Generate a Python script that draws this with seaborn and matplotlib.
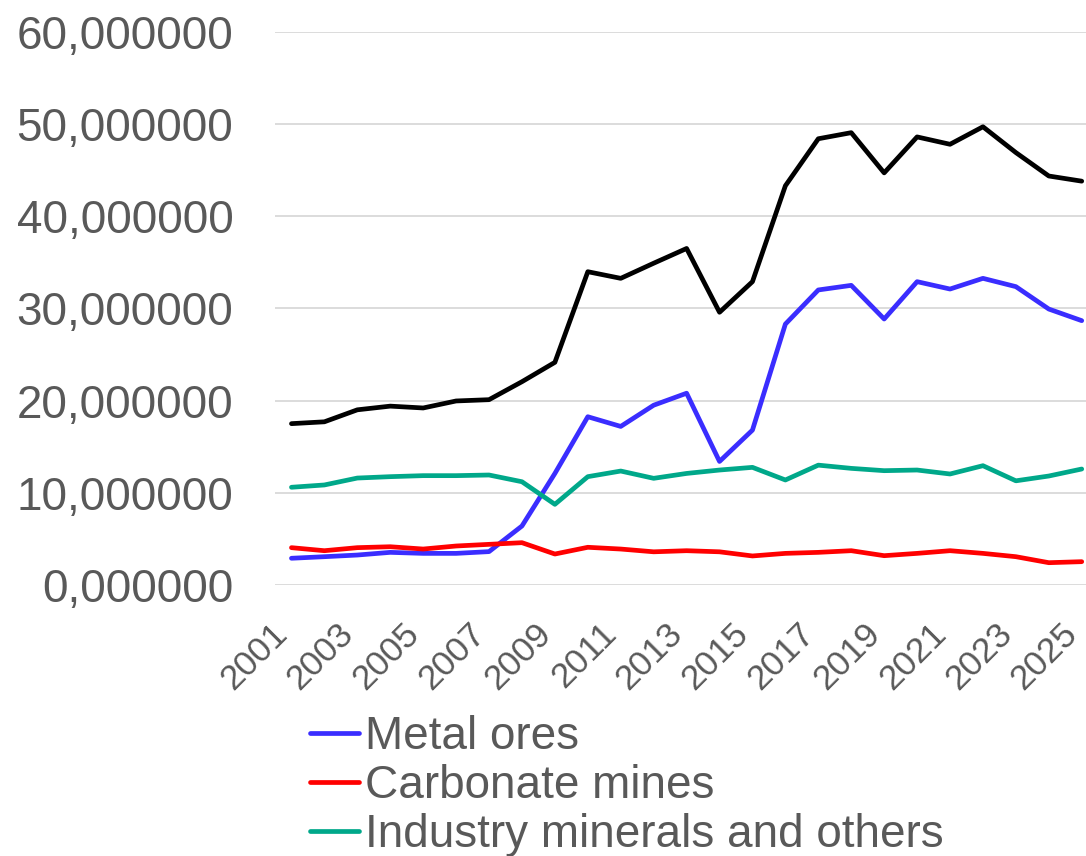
import matplotlib
matplotlib.use("Agg")
import matplotlib.pyplot as plt
import matplotlib.transforms as mtransforms
import seaborn as sns
import pandas as pd
from matplotlib.ticker import FuncFormatter, FixedLocator

years = list(range(2001, 2026))

total = [17.5, 17.7, 19.0, 19.4, 19.2, 19.96, 20.1, 22.05, 24.15, 33.98,
         33.26, 34.9, 36.5, 29.58, 32.9, 43.3, 48.4, 49.06, 44.7, 48.6,
         47.8, 49.7, 46.9, 44.36, 43.8]
metal_ores = [2.9, 3.07, 3.25, 3.54, 3.43, 3.43, 3.62, 6.4, 12.1, 18.25,
              17.2, 19.5, 20.8, 13.4, 16.8, 28.3, 32.0, 32.5, 28.85, 32.9,
              32.1, 33.26, 32.36, 29.93, 28.67]
carbonate_mines = [4.05, 3.72, 4.05, 4.15, 3.9, 4.23, 4.41, 4.59, 3.36, 4.09,
                   3.9, 3.6, 3.72, 3.6, 3.15, 3.43, 3.54, 3.72, 3.18, 3.43,
                   3.72, 3.43, 3.07, 2.42, 2.53]
industry_minerals = [10.6, 10.85, 11.6, 11.75, 11.86, 11.86, 11.93, 11.2, 8.75, 11.75,
                     12.36, 11.57, 12.1, 12.47, 12.76, 11.39, 13.0, 12.65, 12.4, 12.47,
                     12.04, 12.94, 11.3, 11.82, 12.58]

series_labels = ["Metal ores", "Carbonate mines", "Industry minerals and others"]
y_ticks = [0, 10, 20, 30, 40, 50, 60]
x_ticks = list(range(2001, 2026, 2))

sns.set_style("white")
plt.rcParams['font.family'] = ['Liberation Sans', 'DejaVu Sans']

fig = plt.figure(figsize=(10.86, 8.56), dpi=100)
ax = fig.add_axes([275/1086, 1 - 585/856, (1098.2 - 275)/1086, (585 - 31.8)/856])

line_kw = dict(linewidth=3.4, solid_capstyle='round', solid_joinstyle='round')

df_total = pd.DataFrame({"year": years, "value": total})
sns.lineplot(data=df_total, x="year", y="value", color="#000000", ax=ax,
             legend=False, **line_kw)

colors = ["#3a2dff", "#ff0000", "#00a88a"]
for vals, lab, col in zip([metal_ores, carbonate_mines, industry_minerals], series_labels, colors):
    d = pd.DataFrame({"year": years, "value": vals})
    sns.lineplot(data=d, x="year", y="value", color=col, ax=ax, label=lab, **line_kw)

ax.set_xlim(2000.5, 2025.5)
ax.set_ylim(0, 60)
ax.yaxis.set_major_locator(FixedLocator(y_ticks))
ax.xaxis.set_major_locator(FixedLocator(x_ticks))
ax.yaxis.set_major_formatter(FuncFormatter(lambda v, p: f"{v:.6f}".replace('.', ',')))
ax.xaxis.set_major_formatter(FuncFormatter(lambda v, p: f"{int(round(v))}"))
ax.set_xlabel("")
ax.set_ylabel("")

ax.grid(axis='y', color='#d9d9d9', linewidth=1.3)
ax.grid(axis='x', visible=False)
ax.set_axisbelow(True)
for s in ax.spines.values():
    s.set_visible(False)

ax.tick_params(axis='y', length=0, pad=30, labelsize=33, labelcolor='#595959')
ax.tick_params(axis='x', length=0, pad=36, labelsize=25.5, labelcolor='#595959')
offset = mtransforms.ScaledTranslation(-2.5/100, 0, fig.dpi_scale_trans)
for lbl in ax.get_xticklabels():
    lbl.set_rotation(45)
    lbl.set_ha('right')
    lbl.set_va('baseline')
    lbl.set_rotation_mode('anchor')
    lbl.set_transform(lbl.get_transform() + offset)

leg = ax.legend(loc='upper left', bbox_to_anchor=(310/1086, 1 - 715/856),
                bbox_transform=fig.transFigure, frameon=False, fontsize=33,
                handlelength=1.07, handletextpad=0.12, labelspacing=0.11,
                borderpad=0, borderaxespad=0)
for t in leg.get_texts():
    t.set_color('#595959')
for h in leg.get_lines():
    h.set_linewidth(3.4)

fig.savefig("out.png", dpi=100, facecolor='white')
